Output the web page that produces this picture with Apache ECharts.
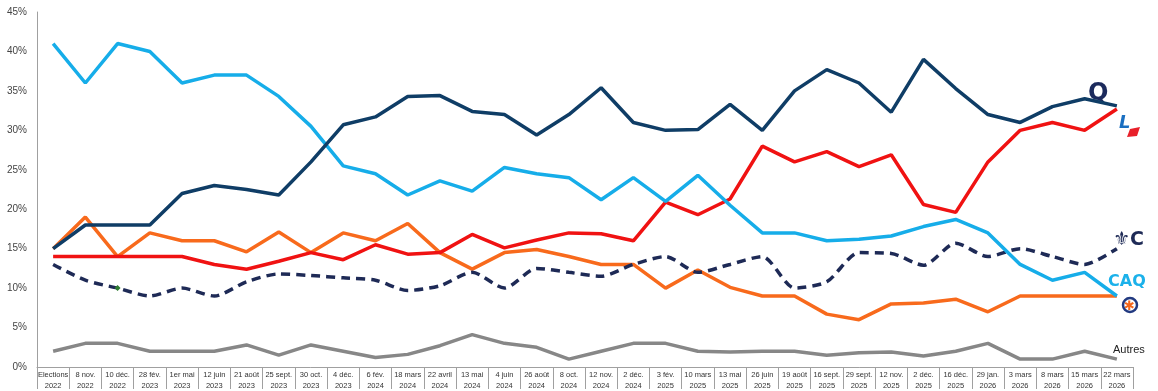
<!DOCTYPE html>
<html><head><meta charset="utf-8">
<script src="https://cdn.jsdelivr.net/npm/echarts@6/dist/echarts.min.js"></script>
<style>html,body{margin:0;padding:0;background:#fff}#c{width:1158px;height:391px}</style>
</head><body><div id="c"></div>
<script>
const categories = ['Elections\n2022','8 nov.\n2022','10 déc.\n2022','28 fév.\n2023','1er mai\n2023','12 juin\n2023','21 août\n2023','25 sept.\n2023','30 oct.\n2023','4 déc.\n2023','6 fév.\n2024','18 mars\n2024','22 avril\n2024','13 mai\n2024','4 juin\n2024','26 août\n2024','8 oct.\n2024','12 nov.\n2024','2 déc.\n2024','3 fév.\n2025','10 mars\n2025','13 mai\n2025','26 juin\n2025','19 août\n2025','16 sept.\n2025','29 sept.\n2025','12 nov.\n2025','2 déc.\n2025','16 déc.\n2025','29 jan.\n2026','3 mars\n2026','8 mars\n2026','15 mars\n2026','22 mars\n2026'];
const pq    = [15,18,18,18,22,23,22.5,21.8,26,30.7,31.7,34.3,34.4,32.4,32,29.4,32,35.4,31,30,30.1,33.3,30,35,37.7,36,32.3,39,35.3,32,31,33,34,33.1];
const caq   = [41,36,41,40,36,37,37,34.3,30.5,25.5,24.5,21.8,23.6,22.3,25.3,24.5,24,21.2,24,21,24.3,20.5,17,17,16,16.2,16.6,17.8,18.7,17,13,11,12,9];
const plq   = [14,14,14,14,14,13,12.4,13.4,14.5,13.6,15.5,14.3,14.5,16.8,15.1,16.1,17,16.9,16,20.9,19.3,21.3,28,26,27.3,25.4,26.9,20.6,19.6,26,30,31,30,32.7];
const qs    = [15,19,14,17,16,16,14.6,17.1,14.5,17,16,18.2,14.5,12.4,14.5,14.9,14,13,13,10,12.3,10.1,9,9,6.7,6,8,8.1,8.6,7,9,9,9,9];
const pcq   = [13,11,10,9,10,9,10.8,11.8,11.6,11.3,11,9.7,10.3,12,10,12.5,12,11.5,13,14,12,13,14,10,10.8,14.5,14.4,12.9,15.7,14,15,14,13,15];
const autres= [2,3,3,2,2,2,2.8,1.5,2.8,2,1.2,1.6,2.7,4.1,3,2.5,1,2,3,3,2,1.9,2,2,1.5,1.8,1.9,1.4,2,3,1,1,2,1];
const yTicks = [0,5,10,15,20,25,30,35,40,45];

const chart = echarts.init(document.getElementById('c'));
const font = 'Liberation Sans, Arial, sans-serif';
function line(name, data, color, extra) {
  return Object.assign({
    name, type: 'line', data, symbol: 'none',
    lineStyle: { color, width: 3.5 }, itemStyle: { color },
    animation: false
  }, extra || {});
}
const pcqData = pcq.map((v, i) => i === 2 ? { value: v, symbol: 'diamond', symbolSize: 6, itemStyle: { color: '#2f7d32' } } : v);
chart.setOption({
  animation: false,
  grid: { left: 37, right: 25, top: 12, bottom: 20 },
  xAxis: {
    type: 'category', data: categories, boundaryGap: true,
    axisLine: { show: true, lineStyle: { color: '#a0a0a0', width: 1 } },
    axisTick: { show: true, interval: 0, length: 22, lineStyle: { color: '#a0a0a0' } },
    axisLabel: { interval: 0, fontSize: 7.5, lineHeight: 11, color: '#333', fontFamily: font, margin: 2 }
  },
  yAxis: {
    type: 'value', min: 0, max: 45, interval: 5,
    axisLine: { show: true, lineStyle: { color: '#a0a0a0', width: 1 } },
    axisTick: { show: false },
    splitLine: { show: false },
    axisLabel: { formatter: v => yTicks.includes(v) ? v + '%' : '', fontSize: 10, color: '#444', fontFamily: font, margin: 10 }
  },
  series: [
    line('Autres', autres, '#878787'),
    line('QS', qs, '#f86a1c'),
    line('PCQ', pcqData, '#1e2a56', { smooth: 0.25, lineStyle: { color: '#1e2a56', width: 3.5, type: [9, 6] } }),
    line('PLQ', plq, '#f01212'),
    line('CAQ', caq, '#16ade9'),
    line('PQ', pq, '#0f3d66')
  ],
  graphic: [
    { type: 'text', left: 1088, top: 82, style: { text: 'Q', font: 'bold 24px DejaVu Sans, sans-serif', fill: '#1c2a5c' } },
    { type: 'text', left: 1119, top: 114, style: { text: 'L', font: 'italic bold 18px DejaVu Sans, sans-serif', fill: '#1a6fc1' } },
    { type: 'polygon', shape: { points: [[1130,129],[1140,127],[1137,136],[1127,137]] }, style: { fill: '#e8202a' } },
    { type: 'text', left: 1113, top: 231, style: { text: '⚜C', font: 'bold 19px DejaVu Sans, sans-serif', fill: '#1e2a56' } },
    { type: 'text', left: 1108, top: 274, style: { text: 'CAQ', font: 'bold 16px DejaVu Sans, sans-serif', fill: '#1bb1ea' } },
    { type: 'circle', shape: { cx: 1130, cy: 305, r: 7 }, style: { fill: 'none', stroke: '#223a80', lineWidth: 2.5 } },
    { type: 'text', left: 1124, top: 300, style: { text: '✱', font: 'bold 13px DejaVu Sans, sans-serif', fill: '#f4661b' } },
    { type: 'text', left: 1113, top: 344, style: { text: 'Autres', font: '11px Liberation Sans, Arial, sans-serif', fill: '#222' } }
  ]
});
</script></body></html>
